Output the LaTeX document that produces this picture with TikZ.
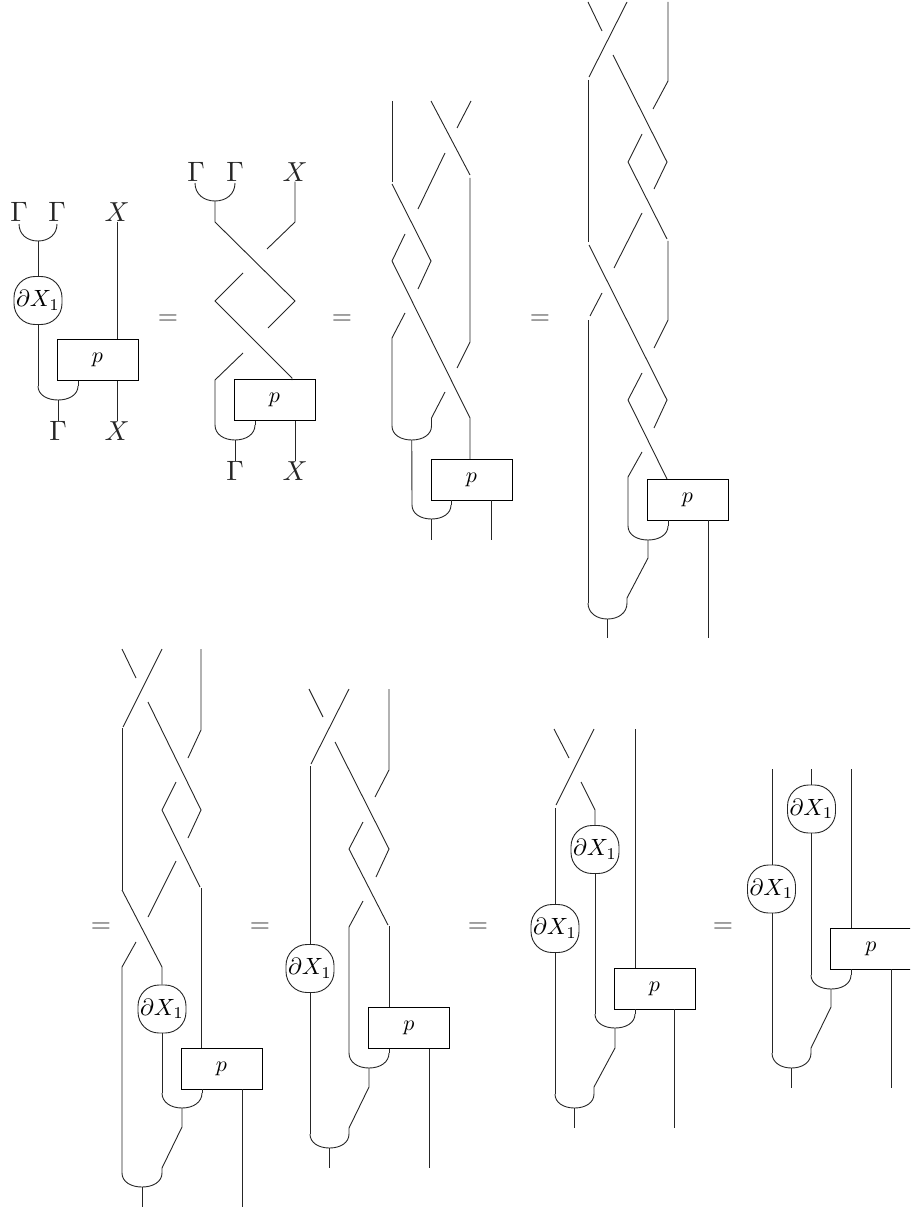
\documentclass[tikz,border=0pt]{standalone}
\usepackage{graphicx}
\newcommand{\dXlab}{\scalebox{2.35}{$\partial X_1$}}
\newcommand{\glab}{\scalebox{2.8}{$\Gamma$}}
\newcommand{\xlab}{\scalebox{2.75}{$X$}}
\newcommand{\plab}{\scalebox{2.2}{$p$}}
\newcommand{\eqlab}{\scalebox{2.6}{$=$}}
% name, left x, right x, top y, bottom y: a cup joining two strands into one
\newcommand{\cupat}[5]{%
  \coordinate (#1-l) at (#2,#4);
  \coordinate (#1-r) at (#3,#4);
  \coordinate (#1-b) at ({(#2+#3)/2},#5);
  \draw[strand] (#1-l) .. controls (#2,{#4+0.62*(#5-#4)}) and ({#2+0.22*(#3-#2)},#5) .. (#1-b)
    .. controls ({#3-0.22*(#3-#2)},#5) and (#3,{#4+0.62*(#5-#4)}) .. (#1-r);}
\tikzset{
  strand/.style={line width=0.9pt,draw=black!85,line cap=butt,line join=miter},
  dxbox/.style={draw=black!85,line width=0.9pt,rounded corners=21pt,minimum width=48pt,minimum height=48pt,inner sep=0pt},
  pbox/.style={draw=black,line width=0.9pt,fill=white,minimum width=81pt,minimum height=41pt,inner sep=0pt},
  lab/.style={inner sep=0pt,text=black!85},
  eqs/.style={inner sep=0pt,text=black!70}
}
\begin{document}
\begin{tikzpicture}[x=1pt,y=-1pt]
\useasboundingbox (0,0) rectangle (910,1214);
\clip (0,0) rectangle (910,1214);

% equals signs
\node[eqs] (e1) at (168,320) {\eqlab};
\node[eqs] (e2) at (342,320) {\eqlab};
\node[eqs] (e3) at (540,320) {\eqlab};
\node[eqs] (e4) at (101,928) {\eqlab};
\node[eqs] (e5) at (260,928) {\eqlab};
\node[eqs] (e6) at (478,928) {\eqlab};
\node[eqs] (e7) at (723,928) {\eqlab};

% ---------- diagram 1
\node[lab] (g1a) at (19,212) {\glab};
\node[lab] (g1b) at (57,212) {\glab};
\node[lab] (x1a) at (117,212) {\xlab};
\node[lab] (g1c) at (58,431) {\glab};
\node[lab] (x1b) at (117,431) {\xlab};
\node[dxbox] (d1) at (38,300.5) {\dXlab};
\node[pbox] (p1) at (97.5,360) {\plab};
\cupat{c1a}{19}{57}{224}{241}
\cupat{c1b}{38}{78}{386}{400}
\draw[strand] (c1a-b) -- (d1.north);
\draw[strand] (d1.south) -- (c1b-l);
\draw[strand] (c1b-r) -- (c1b-r |- p1.south);
\draw[strand] (c1b-b) -- (g1c.north);
\draw[strand] (x1a.south) -- (x1a.south |- p1.north);
\draw[strand] (x1b.north |- p1.south) -- (x1b.north);

% ---------- diagram 2
\node[lab] (g2a) at (196,172) {\glab};
\node[lab] (g2b) at (235,172) {\glab};
\node[lab] (x2a) at (295,172) {\xlab};
\node[lab] (g2c) at (235,471) {\glab};
\node[lab] (x2b) at (295,471) {\xlab};
\node[pbox] (p2) at (274.5,400) {\plab};
\cupat{c2a}{195}{235}{183}{201}
\cupat{c2b}{215}{255}{425}{440}
\draw[strand] (c2a-b) -- (215,222) -- (295,301) -- (268,328);
\draw[strand] (x2a.south) -- (295,222) -- (267,249);
\draw[strand] (243,273) -- (215,301) -- (292,378) -- (292,380);
\draw[strand] (243,353) -- (215,380) -- (c2b-l);
\draw[strand] (c2b-r) -- (c2b-r |- p2.south);
\draw[strand] (c2b-b) -- (g2c.north);
\draw[strand] (x2b.north |- p2.south) -- (x2b.north);

% ---------- diagram 3
\node[pbox] (p3) at (471.5,479.5) {\plab};
\cupat{c3a}{392}{431.5}{426}{440}
\cupat{c3b}{412}{451}{505}{519}
\draw[strand] (392,101) -- (392,182);
\draw[strand] (392,184) -- (431,261) -- (418,289);
\draw[strand] (431,101) -- (470,175);
\draw[strand] (470,178) -- (470,342) -- (457,368);
\draw[strand] (471,101) -- (457,128);
\draw[strand] (445,153) -- (418,209);
\draw[strand] (405,234) -- (392,261) -- (470,418) -- (470,459);
\draw[strand] (405,313) -- (392,338) -- (c3a-l);
\draw[strand] (445,392) -- (431.5,418) -- (c3a-r);
\draw[strand] (c3a-b) -- (c3b-l);
\draw[strand] (c3b-r) -- (c3b-r |- p3.south);
\coordinate (t3a) at (c3b-b |- 0,540);
\coordinate (t3b) at (491,540);
\draw[strand] (c3b-b) -- (t3a);
\draw[strand] (t3b |- p3.south) -- (t3b);

% ---------- diagram 4
\node[pbox] (p4) at (687.5,499.5) {\plab};
\cupat{c4a}{628}{668}{526}{540}
\cupat{c4b}{588}{627}{603}{619}
\draw[strand] (588,2) -- (602,31);
\draw[strand] (627,2) -- (589,77);
\draw[strand] (588,80) -- (588,242);
\draw[strand] (613,55) -- (667,162) -- (654,189);
\draw[strand] (668,2) -- (668,81) -- (653,109);
\draw[strand] (642,134) -- (628,162) -- (667,239);
\draw[strand] (668,241) -- (668,320) -- (654,348);
\draw[strand] (642,213) -- (614,268);
\draw[strand] (589,245) -- (667,400) -- (654,428);
\draw[strand] (602,293) -- (590,316);
\draw[strand] (588,320) -- (c4b-l);
\draw[strand] (642,373) -- (628,400) -- (667,479);
\draw[strand] (642,452) -- (628,477) -- (c4a-l);
\draw[strand] (c4a-r) -- (c4a-r |- p4.south);
\draw[strand] (c4a-b) -- (648,558) -- (627,598) -- (c4b-r);
\coordinate (t4a) at (c4b-b |- 0,638);
\coordinate (t4b) at (708,638);
\draw[strand] (c4b-b) -- (t4a);
\draw[strand] (t4b |- p4.south) -- (t4b);

% ---------- diagram 5
\node[dxbox] (d5) at (162,1009) {\dXlab};
\node[pbox] (p5) at (221.5,1068.5) {\plab};
\cupat{c5a}{162}{202}{1093}{1108}
\cupat{c5b}{122}{162}{1173}{1187}
\draw[strand] (122,649) -- (136,678);
\draw[strand] (162,649) -- (123,727);
\draw[strand] (122,728) -- (122,890);
\draw[strand] (148,702) -- (201,810) -- (188,838);
\draw[strand] (201,649) -- (201,730) -- (188,758);
\draw[strand] (176,782) -- (162,810) -- (200,887);
\draw[strand] (201,888) -- (201,1048);
\draw[strand] (176,861) -- (148,917);
\draw[strand] (122,890) -- (162,967) -- (d5.north);
\draw[strand] (136,942) -- (122,967) -- (c5b-l);
\draw[strand] (d5.south) -- (c5a-l);
\draw[strand] (c5a-r) -- (c5a-r |- p5.south);
\draw[strand] (c5a-b) -- (182,1127) -- (162,1168) -- (c5b-r);
\coordinate (t5a) at (c5b-b |- 0,1207);
\coordinate (t5b) at (242,1207);
\draw[strand] (c5b-b) -- (t5a);
\draw[strand] (t5b |- p5.south) -- (t5b);

% ---------- diagram 6
\node[dxbox] (d6) at (310,968.5) {\dXlab};
\node[pbox] (p6) at (409,1028) {\plab};
\cupat{c6a}{349}{389}{1053}{1068}
\cupat{c6b}{310}{349}{1134}{1148}
\draw[strand] (309,689) -- (323,717);
\draw[strand] (349,689) -- (311,764);
\draw[strand] (310,766) -- (d6.north);
\draw[strand] (d6.south) -- (c6b-l);
\draw[strand] (335,742) -- (389,849) -- (376,877);
\draw[strand] (389,689) -- (389,770) -- (375,797);
\draw[strand] (363,822) -- (349,849) -- (388,925);
\draw[strand] (389,926) -- (389,0 |- p6.north);
\draw[strand] (363,901) -- (349,927) -- (c6a-l);
\draw[strand] (c6a-r) -- (c6a-r |- p6.south);
\draw[strand] (c6a-b) -- (369,1087) -- (349,1128) -- (c6b-r);
\coordinate (t6a) at (c6b-b |- 0,1168);
\coordinate (t6b) at (429,1168);
\draw[strand] (c6b-b) -- (t6a);
\draw[strand] (t6b |- p6.south) -- (t6b);

% ---------- diagram 7
\node[dxbox] (d7a) at (555,928.5) {\dXlab};
\node[dxbox] (d7b) at (595,849.5) {\dXlab};
\node[pbox] (p7) at (654.5,988.5) {\plab};
\cupat{c7a}{595}{635}{1014}{1028}
\cupat{c7b}{555}{594}{1094}{1108}
\draw[strand] (554,729) -- (569,758);
\draw[strand] (594,729) -- (556,805);
\draw[strand] (555,808) -- (d7a.north);
\draw[strand] (d7a.south) -- (c7b-l);
\draw[strand] (581,782) -- (595,810) -- (d7b.north);
\draw[strand] (d7b.south) -- (c7a-l);
\draw[strand] (635,729) -- (635,0 |- p7.north);
\draw[strand] (c7a-r) -- (c7a-r |- p7.south);
\draw[strand] (c7a-b) -- (615,1048) -- (594,1087) -- (c7b-r);
\coordinate (t7a) at (c7b-b |- 0,1128);
\coordinate (t7b) at (674,1128);
\draw[strand] (c7b-b) -- (t7a);
\draw[strand] (t7b |- p7.south) -- (t7b);

% ---------- diagram 8
\node[dxbox] (d8a) at (771.5,889) {\dXlab};
\node[dxbox] (d8b) at (811.5,809) {\dXlab};
\node[pbox] (p8) at (871,948.5) {\plab};
\cupat{c8a}{811}{851}{975}{989}
\cupat{c8b}{772}{811}{1053}{1068}
\coordinate (t8a) at (772,769);
\coordinate (t8b) at (811,769);
\coordinate (t8c) at (851,769);
\draw[strand] (t8a) -- (d8a.north -| t8a);
\draw[strand] (d8a.south -| t8a) -- (c8b-l);
\draw[strand] (t8b) -- (d8b.north -| t8b);
\draw[strand] (d8b.south -| t8b) -- (c8a-l);
\draw[strand] (t8c) -- (t8c |- p8.north);
\draw[strand] (c8a-r) -- (c8a-r |- p8.south);
\draw[strand] (c8a-b) -- (831,1007) -- (811,1048) -- (c8b-r);
\coordinate (t8d) at (c8b-b |- 0,1088);
\coordinate (t8e) at (891,1088);
\draw[strand] (c8b-b) -- (t8d);
\draw[strand] (t8e |- p8.south) -- (t8e);
\end{tikzpicture}
\end{document}
